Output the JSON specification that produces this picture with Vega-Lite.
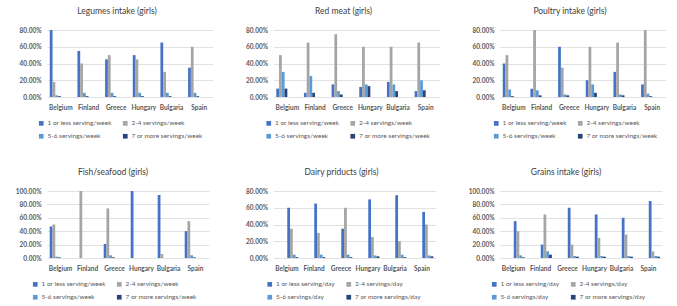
{
 "$schema": "https://vega.github.io/schema/vega-lite/v6.json",
 "padding": {"left": 10, "top": 6, "right": 0, "bottom": 0},
 "background": "white",
 "datasets": {
  "all": [
   {"p":"L","c":"Belgium","s":"1 or less serving/week","v":0.80},
   {"p":"L","c":"Belgium","s":"2-4 servings/week","v":0.18},
   {"p":"L","c":"Belgium","s":"5-6 servings/week","v":0.02},
   {"p":"L","c":"Belgium","s":"7 or more servings/week","v":0.01},
   {"p":"L","c":"Finland","s":"1 or less serving/week","v":0.55},
   {"p":"L","c":"Finland","s":"2-4 servings/week","v":0.40},
   {"p":"L","c":"Finland","s":"5-6 servings/week","v":0.05},
   {"p":"L","c":"Finland","s":"7 or more servings/week","v":0.01},
   {"p":"L","c":"Greece","s":"1 or less serving/week","v":0.45},
   {"p":"L","c":"Greece","s":"2-4 servings/week","v":0.50},
   {"p":"L","c":"Greece","s":"5-6 servings/week","v":0.05},
   {"p":"L","c":"Greece","s":"7 or more servings/week","v":0.01},
   {"p":"L","c":"Hungary","s":"1 or less serving/week","v":0.50},
   {"p":"L","c":"Hungary","s":"2-4 servings/week","v":0.45},
   {"p":"L","c":"Hungary","s":"5-6 servings/week","v":0.05},
   {"p":"L","c":"Hungary","s":"7 or more servings/week","v":0.01},
   {"p":"L","c":"Bulgaria","s":"1 or less serving/week","v":0.65},
   {"p":"L","c":"Bulgaria","s":"2-4 servings/week","v":0.30},
   {"p":"L","c":"Bulgaria","s":"5-6 servings/week","v":0.05},
   {"p":"L","c":"Bulgaria","s":"7 or more servings/week","v":0.01},
   {"p":"L","c":"Spain","s":"1 or less serving/week","v":0.35},
   {"p":"L","c":"Spain","s":"2-4 servings/week","v":0.60},
   {"p":"L","c":"Spain","s":"5-6 servings/week","v":0.05},
   {"p":"L","c":"Spain","s":"7 or more servings/week","v":0.01},

   {"p":"R","c":"Belgium","s":"1 or less serving/week","v":0.10},
   {"p":"R","c":"Belgium","s":"2-4 servings/week","v":0.50},
   {"p":"R","c":"Belgium","s":"5-6 servings/week","v":0.30},
   {"p":"R","c":"Belgium","s":"7 or more servings/week","v":0.10},
   {"p":"R","c":"Finland","s":"1 or less serving/week","v":0.05},
   {"p":"R","c":"Finland","s":"2-4 servings/week","v":0.65},
   {"p":"R","c":"Finland","s":"5-6 servings/week","v":0.25},
   {"p":"R","c":"Finland","s":"7 or more servings/week","v":0.05},
   {"p":"R","c":"Greece","s":"1 or less serving/week","v":0.15},
   {"p":"R","c":"Greece","s":"2-4 servings/week","v":0.75},
   {"p":"R","c":"Greece","s":"5-6 servings/week","v":0.07},
   {"p":"R","c":"Greece","s":"7 or more servings/week","v":0.03},
   {"p":"R","c":"Hungary","s":"1 or less serving/week","v":0.12},
   {"p":"R","c":"Hungary","s":"2-4 servings/week","v":0.60},
   {"p":"R","c":"Hungary","s":"5-6 servings/week","v":0.15},
   {"p":"R","c":"Hungary","s":"7 or more servings/week","v":0.13},
   {"p":"R","c":"Bulgaria","s":"1 or less serving/week","v":0.18},
   {"p":"R","c":"Bulgaria","s":"2-4 servings/week","v":0.60},
   {"p":"R","c":"Bulgaria","s":"5-6 servings/week","v":0.15},
   {"p":"R","c":"Bulgaria","s":"7 or more servings/week","v":0.07},
   {"p":"R","c":"Spain","s":"1 or less serving/week","v":0.07},
   {"p":"R","c":"Spain","s":"2-4 servings/week","v":0.65},
   {"p":"R","c":"Spain","s":"5-6 servings/week","v":0.20},
   {"p":"R","c":"Spain","s":"7 or more servings/week","v":0.08},

   {"p":"P","c":"Belgium","s":"1 or less serving/week","v":0.40},
   {"p":"P","c":"Belgium","s":"2-4 servings/week","v":0.50},
   {"p":"P","c":"Belgium","s":"5-6 servings/week","v":0.09},
   {"p":"P","c":"Belgium","s":"7 or more servings/week","v":0.01},
   {"p":"P","c":"Finland","s":"1 or less serving/week","v":0.10},
   {"p":"P","c":"Finland","s":"2-4 servings/week","v":0.80},
   {"p":"P","c":"Finland","s":"5-6 servings/week","v":0.08},
   {"p":"P","c":"Finland","s":"7 or more servings/week","v":0.02},
   {"p":"P","c":"Greece","s":"1 or less serving/week","v":0.60},
   {"p":"P","c":"Greece","s":"2-4 servings/week","v":0.35},
   {"p":"P","c":"Greece","s":"5-6 servings/week","v":0.03},
   {"p":"P","c":"Greece","s":"7 or more servings/week","v":0.02},
   {"p":"P","c":"Hungary","s":"1 or less serving/week","v":0.20},
   {"p":"P","c":"Hungary","s":"2-4 servings/week","v":0.60},
   {"p":"P","c":"Hungary","s":"5-6 servings/week","v":0.15},
   {"p":"P","c":"Hungary","s":"7 or more servings/week","v":0.05},
   {"p":"P","c":"Bulgaria","s":"1 or less serving/week","v":0.30},
   {"p":"P","c":"Bulgaria","s":"2-4 servings/week","v":0.65},
   {"p":"P","c":"Bulgaria","s":"5-6 servings/week","v":0.03},
   {"p":"P","c":"Bulgaria","s":"7 or more servings/week","v":0.02},
   {"p":"P","c":"Spain","s":"1 or less serving/week","v":0.15},
   {"p":"P","c":"Spain","s":"2-4 servings/week","v":0.80},
   {"p":"P","c":"Spain","s":"5-6 servings/week","v":0.04},
   {"p":"P","c":"Spain","s":"7 or more servings/week","v":0.01},

   {"p":"F","c":"Belgium","s":"1 or less serving/week","v":0.47},
   {"p":"F","c":"Belgium","s":"2-4 servings/week","v":0.50},
   {"p":"F","c":"Belgium","s":"5-6 servings/week","v":0.02},
   {"p":"F","c":"Belgium","s":"7 or more servings/week","v":0.01},
   {"p":"F","c":"Finland","s":"1 or less serving/week","v":0.0},
   {"p":"F","c":"Finland","s":"2-4 servings/week","v":1.0},
   {"p":"F","c":"Finland","s":"5-6 servings/week","v":0.0},
   {"p":"F","c":"Finland","s":"7 or more servings/week","v":0.0},
   {"p":"F","c":"Greece","s":"1 or less serving/week","v":0.21},
   {"p":"F","c":"Greece","s":"2-4 servings/week","v":0.74},
   {"p":"F","c":"Greece","s":"5-6 servings/week","v":0.04},
   {"p":"F","c":"Greece","s":"7 or more servings/week","v":0.01},
   {"p":"F","c":"Hungary","s":"1 or less serving/week","v":1.0},
   {"p":"F","c":"Hungary","s":"2-4 servings/week","v":0.0},
   {"p":"F","c":"Hungary","s":"5-6 servings/week","v":0.0},
   {"p":"F","c":"Hungary","s":"7 or more servings/week","v":0.0},
   {"p":"F","c":"Bulgaria","s":"1 or less serving/week","v":0.94},
   {"p":"F","c":"Bulgaria","s":"2-4 servings/week","v":0.06},
   {"p":"F","c":"Bulgaria","s":"5-6 servings/week","v":0.0},
   {"p":"F","c":"Bulgaria","s":"7 or more servings/week","v":0.0},
   {"p":"F","c":"Spain","s":"1 or less serving/week","v":0.40},
   {"p":"F","c":"Spain","s":"2-4 servings/week","v":0.55},
   {"p":"F","c":"Spain","s":"5-6 servings/week","v":0.04},
   {"p":"F","c":"Spain","s":"7 or more servings/week","v":0.01},

   {"p":"D","c":"Belgium","s":"1 or less serving/day","v":0.60},
   {"p":"D","c":"Belgium","s":"2-4 servings/day","v":0.35},
   {"p":"D","c":"Belgium","s":"5-6 servings/day","v":0.04},
   {"p":"D","c":"Belgium","s":"7 or more servings/day","v":0.01},
   {"p":"D","c":"Finland","s":"1 or less serving/day","v":0.65},
   {"p":"D","c":"Finland","s":"2-4 servings/day","v":0.30},
   {"p":"D","c":"Finland","s":"5-6 servings/day","v":0.04},
   {"p":"D","c":"Finland","s":"7 or more servings/day","v":0.01},
   {"p":"D","c":"Greece","s":"1 or less serving/day","v":0.35},
   {"p":"D","c":"Greece","s":"2-4 servings/day","v":0.60},
   {"p":"D","c":"Greece","s":"5-6 servings/day","v":0.04},
   {"p":"D","c":"Greece","s":"7 or more servings/day","v":0.01},
   {"p":"D","c":"Hungary","s":"1 or less serving/day","v":0.70},
   {"p":"D","c":"Hungary","s":"2-4 servings/day","v":0.25},
   {"p":"D","c":"Hungary","s":"5-6 servings/day","v":0.03},
   {"p":"D","c":"Hungary","s":"7 or more servings/day","v":0.02},
   {"p":"D","c":"Bulgaria","s":"1 or less serving/day","v":0.75},
   {"p":"D","c":"Bulgaria","s":"2-4 servings/day","v":0.20},
   {"p":"D","c":"Bulgaria","s":"5-6 servings/day","v":0.04},
   {"p":"D","c":"Bulgaria","s":"7 or more servings/day","v":0.01},
   {"p":"D","c":"Spain","s":"1 or less serving/day","v":0.55},
   {"p":"D","c":"Spain","s":"2-4 servings/day","v":0.40},
   {"p":"D","c":"Spain","s":"5-6 servings/day","v":0.03},
   {"p":"D","c":"Spain","s":"7 or more servings/day","v":0.02},

   {"p":"G","c":"Belgium","s":"1 or less serving/day","v":0.55},
   {"p":"G","c":"Belgium","s":"2-4 servings/day","v":0.40},
   {"p":"G","c":"Belgium","s":"5-6 servings/day","v":0.04},
   {"p":"G","c":"Belgium","s":"7 or more servings/day","v":0.01},
   {"p":"G","c":"Finland","s":"1 or less serving/day","v":0.20},
   {"p":"G","c":"Finland","s":"2-4 servings/day","v":0.65},
   {"p":"G","c":"Finland","s":"5-6 servings/day","v":0.10},
   {"p":"G","c":"Finland","s":"7 or more servings/day","v":0.05},
   {"p":"G","c":"Greece","s":"1 or less serving/day","v":0.75},
   {"p":"G","c":"Greece","s":"2-4 servings/day","v":0.20},
   {"p":"G","c":"Greece","s":"5-6 servings/day","v":0.03},
   {"p":"G","c":"Greece","s":"7 or more servings/day","v":0.02},
   {"p":"G","c":"Hungary","s":"1 or less serving/day","v":0.65},
   {"p":"G","c":"Hungary","s":"2-4 servings/day","v":0.30},
   {"p":"G","c":"Hungary","s":"5-6 servings/day","v":0.03},
   {"p":"G","c":"Hungary","s":"7 or more servings/day","v":0.02},
   {"p":"G","c":"Bulgaria","s":"1 or less serving/day","v":0.60},
   {"p":"G","c":"Bulgaria","s":"2-4 servings/day","v":0.35},
   {"p":"G","c":"Bulgaria","s":"5-6 servings/day","v":0.03},
   {"p":"G","c":"Bulgaria","s":"7 or more servings/day","v":0.02},
   {"p":"G","c":"Spain","s":"1 or less serving/day","v":0.85},
   {"p":"G","c":"Spain","s":"2-4 servings/day","v":0.10},
   {"p":"G","c":"Spain","s":"5-6 servings/day","v":0.03},
   {"p":"G","c":"Spain","s":"7 or more servings/day","v":0.02}
  ]
 },
 "data": {"name": "all"},
 "config": {
  "font": "Lato",
  "view": {"stroke": null},
  "title": {"fontSize": 8.5, "fontWeight": "normal", "color": "#404040", "offset": 12, "font": "Lato"},
  "axis": {"labelFont": "Lato", "labelFontSize": 6.5, "labelFontWeight": "bold", "labelColor": "#595959", "ticks": false, "tickSize": 0, "domain": false},
  "axisY": {"gridColor": "#D9D9D9", "gridWidth": 0.8, "labelPadding": 6},
  "axisX": {"grid": false, "labelPadding": 7, "labelAngle": 0},
  "legend": {"labelFont": "Lato", "labelFontSize": 6.5, "labelColor": "#595959", "symbolType": "square", "symbolSize": 22, "symbolStrokeWidth": 0, "rowPadding": 6, "columnPadding": 10, "labelOffset": 3, "direction": "horizontal"}
 },
 "resolve": {"scale": {"color": "independent"}, "legend": {"color": "independent"}},
 "spacing": 27,
 "vconcat": [
  {
   "spacing": 28.5,
   "resolve": {"scale": {"color": "independent"}, "legend": {"color": "independent"}},
   "hconcat": [
    {
     "title": {"text": "Legumes intake (girls)", "dx": -13},
     "width": 166, "height": 67,
     "transform": [{"filter": "datum.p == 'L'"}],
     "mark": {"type": "bar"},
     "encoding": {
      "x": {"field": "c", "type": "nominal", "sort": null, "title": null, "scale": {"paddingInner": 0.2, "paddingOuter": 0.1}},
      "xOffset": {"field": "s", "type": "nominal", "sort": null, "scale": {"paddingInner": 0, "paddingOuter": 0}},
      "y": {"field": "v", "type": "quantitative", "title": null, "scale": {"domain": [0, 0.8], "nice": false}, "axis": {"values": [0, 0.2, 0.4, 0.6, 0.8], "format": ".2%", "minExtent": 32, "maxExtent": 32}},
      "color": {"field": "s", "type": "nominal", "sort": null, "scale": {"domain": ["1 or less serving/week", "2-4 servings/week", "5-6 servings/week", "7 or more servings/week"], "range": ["#4472C4", "#A5A5A5", "#5B9BD5", "#264478"]}, "legend": {"orient": "none", "legendX": -9, "legendY": 90, "columns": 2, "direction": "horizontal", "title": null}}
     }
    },
    {
     "title": {"text": "Red meat (girls)", "dx": -13},
     "width": 166, "height": 67,
     "transform": [{"filter": "datum.p == 'R'"}],
     "mark": {"type": "bar"},
     "encoding": {
      "x": {"field": "c", "type": "nominal", "sort": null, "title": null, "scale": {"paddingInner": 0.2, "paddingOuter": 0.1}},
      "xOffset": {"field": "s", "type": "nominal", "sort": null, "scale": {"paddingInner": 0, "paddingOuter": 0}},
      "y": {"field": "v", "type": "quantitative", "title": null, "scale": {"domain": [0, 0.8], "nice": false}, "axis": {"values": [0, 0.2, 0.4, 0.6, 0.8], "format": ".2%", "minExtent": 32, "maxExtent": 32}},
      "color": {"field": "s", "type": "nominal", "sort": null, "scale": {"domain": ["1 or less serving/week", "2-4 servings/week", "5-6 servings/week", "7 or more servings/week"], "range": ["#4472C4", "#A5A5A5", "#5B9BD5", "#264478"]}, "legend": {"orient": "none", "legendX": -8, "legendY": 90, "columns": 2, "direction": "horizontal", "title": null}}
     }
    },
    {
     "title": {"text": "Poultry intake (girls)", "dx": -13},
     "width": 166, "height": 67,
     "transform": [{"filter": "datum.p == 'P'"}],
     "mark": {"type": "bar"},
     "encoding": {
      "x": {"field": "c", "type": "nominal", "sort": null, "title": null, "scale": {"paddingInner": 0.2, "paddingOuter": 0.1}},
      "xOffset": {"field": "s", "type": "nominal", "sort": null, "scale": {"paddingInner": 0, "paddingOuter": 0}},
      "y": {"field": "v", "type": "quantitative", "title": null, "scale": {"domain": [0, 0.8], "nice": false}, "axis": {"values": [0, 0.2, 0.4, 0.6, 0.8], "format": ".2%", "minExtent": 32, "maxExtent": 32}},
      "color": {"field": "s", "type": "nominal", "sort": null, "scale": {"domain": ["1 or less serving/week", "2-4 servings/week", "5-6 servings/week", "7 or more servings/week"], "range": ["#4472C4", "#A5A5A5", "#5B9BD5", "#264478"]}, "legend": {"orient": "none", "legendX": -7, "legendY": 90, "columns": 2, "direction": "horizontal", "title": null}}
     }
    }
   ]
  },
  {
   "spacing": 27.5,
   "resolve": {"scale": {"color": "independent"}, "legend": {"color": "independent"}},
   "hconcat": [
    {
     "title": {"text": "Fish/seafood (girls)", "dx": -15},
     "width": 162, "height": 67,
     "transform": [{"filter": "datum.p == 'F'"}],
     "mark": {"type": "bar"},
     "encoding": {
      "x": {"field": "c", "type": "nominal", "sort": null, "title": null, "scale": {"paddingInner": 0.2, "paddingOuter": 0.1}},
      "xOffset": {"field": "s", "type": "nominal", "sort": null, "scale": {"paddingInner": 0, "paddingOuter": 0}},
      "y": {"field": "v", "type": "quantitative", "title": null, "scale": {"domain": [0, 1], "nice": false}, "axis": {"values": [0, 0.2, 0.4, 0.6, 0.8, 1], "format": ".2%", "minExtent": 37, "maxExtent": 37}},
      "color": {"field": "s", "type": "nominal", "sort": null, "scale": {"domain": ["1 or less serving/week", "2-4 servings/week", "5-6 servings/week", "7 or more servings/week"], "range": ["#4472C4", "#A5A5A5", "#5B9BD5", "#264478"]}, "legend": {"orient": "none", "legendX": -15, "legendY": 90, "columns": 2, "direction": "horizontal", "title": null}}
     }
    },
    {
     "title": {"text": "Dairy priducts (girls)", "dx": -13},
     "width": 162, "height": 67,
     "transform": [{"filter": "datum.p == 'D'"}],
     "mark": {"type": "bar"},
     "encoding": {
      "x": {"field": "c", "type": "nominal", "sort": null, "title": null, "scale": {"paddingInner": 0.2, "paddingOuter": 0.1}},
      "xOffset": {"field": "s", "type": "nominal", "sort": null, "scale": {"paddingInner": 0, "paddingOuter": 0}},
      "y": {"field": "v", "type": "quantitative", "title": null, "scale": {"domain": [0, 0.8], "nice": false}, "axis": {"values": [0, 0.2, 0.4, 0.6, 0.8], "format": ".2%", "minExtent": 37, "maxExtent": 37}},
      "color": {"field": "s", "type": "nominal", "sort": null, "scale": {"domain": ["1 or less serving/day", "2-4 servings/day", "5-6 servings/day", "7 or more servings/day"], "range": ["#4472C4", "#A5A5A5", "#5B9BD5", "#264478"]}, "legend": {"orient": "none", "legendX": -7, "legendY": 90, "columns": 2, "direction": "horizontal", "title": null}}
     }
    },
    {
     "title": {"text": "Grains intake (girls)", "dx": -15},
     "width": 162, "height": 67,
     "transform": [{"filter": "datum.p == 'G'"}],
     "mark": {"type": "bar"},
     "encoding": {
      "x": {"field": "c", "type": "nominal", "sort": null, "title": null, "scale": {"paddingInner": 0.2, "paddingOuter": 0.1}},
      "xOffset": {"field": "s", "type": "nominal", "sort": null, "scale": {"paddingInner": 0, "paddingOuter": 0}},
      "y": {"field": "v", "type": "quantitative", "title": null, "scale": {"domain": [0, 1], "nice": false}, "axis": {"values": [0, 0.2, 0.4, 0.6, 0.8, 1], "format": ".2%", "minExtent": 37, "maxExtent": 37}},
      "color": {"field": "s", "type": "nominal", "sort": null, "scale": {"domain": ["1 or less serving/day", "2-4 servings/day", "5-6 servings/day", "7 or more servings/day"], "range": ["#4472C4", "#A5A5A5", "#5B9BD5", "#264478"]}, "legend": {"orient": "none", "legendX": -9, "legendY": 90, "columns": 2, "direction": "horizontal", "title": null}}
     }
    }
   ]
  }
 ]
}
